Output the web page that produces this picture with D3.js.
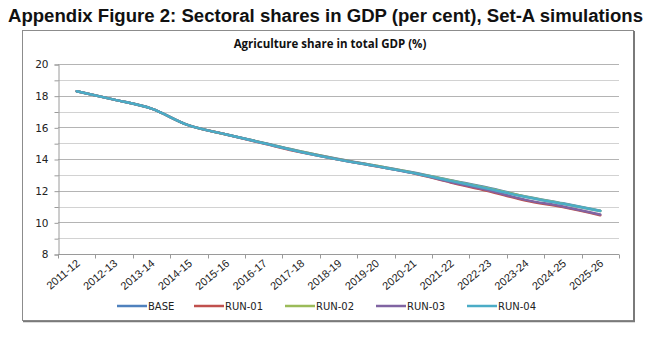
<!DOCTYPE html>
<html>
<head>
<meta charset="utf-8">
<script src="https://cdn.jsdelivr.net/npm/d3@7"></script>
<style>
  body { margin: 0; background: #fff; }
</style>
</head>
<body>
<script>
// data
var years = ["2011-12","2012-13","2013-14","2014-15","2015-16","2016-17","2017-18",
  "2018-19","2019-20","2020-21","2021-22","2022-23","2023-24","2024-25","2025-26"];
var seriesNames = ["BASE","RUN-01","RUN-02","RUN-03","RUN-04"];
var base  = [18.28,17.75,17.18,16.12,15.55,15.02,14.48,14.00,13.58,13.15,12.66,12.18,11.64,11.20,10.74];
var run01 = [18.28,17.75,17.18,16.12,15.55,14.98,14.42,13.96,13.54,13.10,12.52,11.98,11.38,10.96,10.45];
var run02 = [18.28,17.75,17.18,16.12,15.55,15.02,14.47,13.99,13.57,13.14,12.64,12.15,11.62,11.18,10.72];
var run03 = [18.28,17.75,17.18,16.12,15.55,15.00,14.44,13.97,13.55,13.11,12.55,12.02,11.42,11.00,10.49];
var run04 = [18.28,17.75,17.18,16.12,15.55,15.00,14.44,13.96,13.55,13.12,12.62,12.12,11.60,11.17,10.72];
var yTicks = [8,10,12,14,16,18,20];
var colors = ["#4F81BD","#C0504D","#9BBB59","#8064A2","#4BACC6"];

var allSeries = [base, run01, run02, run03, run04];

var W = 651, H = 338;
var svg = d3.select("body").append("svg").attr("width", W).attr("height", H);

// big title
svg.append("text")
  .attr("x", 8).attr("y", 22)
  .attr("textLength", 635).attr("lengthAdjust", "spacingAndGlyphs")
  .attr("font-family", "'Liberation Sans Narrow', 'Arial Narrow', 'Liberation Sans', sans-serif")
  .attr("font-weight", "bold").attr("font-size", 18).attr("fill", "#111")
  .text("Appendix Figure 2: Sectoral shares in GDP (per cent), Set-A simulations");

// chart frame with a little shadow on right/bottom
svg.append("rect").attr("x", 22.5).attr("y", 30.5).attr("width", 611).attr("height", 290)
  .attr("fill", "#fff").attr("stroke", "#8c8c8c").attr("stroke-width", 1);
svg.append("line").attr("x1", 634).attr("x2", 634).attr("y1", 31).attr("y2", 322)
  .attr("stroke", "#7a7a7a").attr("stroke-width", 2);
svg.append("line").attr("x1", 23).attr("x2", 635).attr("y1", 321.5).attr("y2", 321.5)
  .attr("stroke", "#7a7a7a").attr("stroke-width", 1.5);

svg.append("text")
  .attr("x", 330).attr("y", 48).attr("text-anchor", "middle")
  .attr("font-family", "'Open Sans', 'DejaVu Sans', sans-serif")
  .attr("font-weight", "bold").attr("font-size", 11.5).attr("fill", "#111")
  .text("Agriculture share in total GDP (%)");

// plot area
var pl = 58, pr = 619, pt = 64, pb = 254;

var x = d3.scaleBand().domain(years).range([pl, pr]);
var y = d3.scaleLinear().domain([8, 20]).range([pb, pt]);

// gridlines every 1 unit
svg.append("g").selectAll("line").data(d3.range(9, 21))
  .enter().append("line")
  .attr("x1", pl).attr("x2", pr)
  .attr("y1", function(d){ return Math.round(y(d)) + 0.5; })
  .attr("y2", function(d){ return Math.round(y(d)) + 0.5; })
  .attr("stroke", function(d){ return d % 2 === 0 ? "#b4b4b4" : "#d2d2d2"; })
  .attr("stroke-width", 1);

// y axis
var yAxis = svg.append("g").attr("transform", "translate(" + (pl + 0.5) + ",0.5)")
  .call(d3.axisLeft(y).tickValues(d3.range(8, 21)).tickSize(4)
    .tickFormat(function(d){ return yTicks.indexOf(d) >= 0 ? d : ""; }));
yAxis.select(".domain").attr("stroke", "#9a9a9a");
yAxis.selectAll(".tick line").attr("stroke", "#9a9a9a");
yAxis.selectAll(".tick text")
  .attr("font-family", "'DejaVu Sans', Verdana, sans-serif").attr("font-size", 10.5)
  .attr("fill", "#222").attr("x", -10);

// x axis, ticks at band edges
var xAxis = svg.append("g").attr("transform", "translate(0," + (pb + 0.5) + ")");
xAxis.append("line").attr("x1", pl).attr("x2", pr).attr("stroke", "#9a9a9a");
xAxis.selectAll("line.tk").data(d3.range(0, years.length + 1)).enter().append("line")
  .attr("class", "tk")
  .attr("x1", function(i){ return Math.round(pl + i * x.step()) + 0.5; })
  .attr("x2", function(i){ return Math.round(pl + i * x.step()) + 0.5; })
  .attr("y1", 0).attr("y2", 4).attr("stroke", "#9a9a9a");
xAxis.selectAll("text").data(years).enter().append("text")
  .attr("transform", function(d){
    return "translate(" + (x(d) + x.bandwidth() / 2 + 4) + ",10) rotate(-40)";
  })
  .attr("text-anchor", "end")
  .attr("font-family", "'Liberation Sans', Arial, sans-serif").attr("font-size", 11)
  .attr("fill", "#222")
  .text(function(d){ return d; });

// lines
var line = d3.line()
  .x(function(d, i){ return x(years[i]) + x.bandwidth() / 2; })
  .y(function(d){ return y(d); })
  .curve(d3.curveMonotoneX);

svg.append("g").selectAll("path").data(allSeries).enter().append("path")
  .attr("d", line)
  .attr("fill", "none")
  .attr("stroke", function(d, i){ return colors[i]; })
  .attr("stroke-width", 2.5)
  .attr("stroke-linejoin", "round")
  .attr("stroke-linecap", "round");

// legend
var legX = [117, 194, 285, 376, 467];
var leg = svg.append("g").selectAll("g").data(seriesNames).enter().append("g")
  .attr("transform", function(d, i){ return "translate(" + legX[i] + ",306)"; });
leg.append("line").attr("x1", 0).attr("x2", 30).attr("y1", 0).attr("y2", 0)
  .attr("stroke", function(d, i){ return colors[i]; }).attr("stroke-width", 2.5);
leg.append("text").attr("x", 31).attr("y", 4)
  .attr("font-family", "'DejaVu Sans', Verdana, sans-serif").attr("font-size", 10)
  .attr("fill", "#222")
  .text(function(d){ return d; });
</script>
</body>
</html>
